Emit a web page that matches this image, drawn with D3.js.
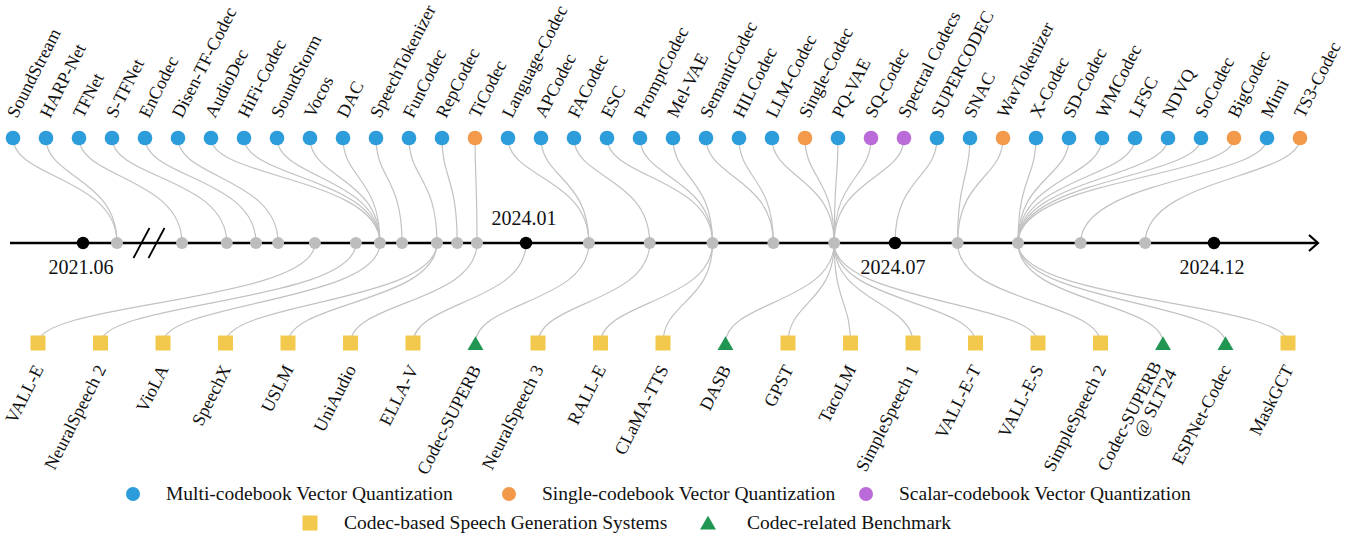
<!DOCTYPE html>
<html>
<head>
<meta charset="utf-8">
<script src="https://cdn.jsdelivr.net/npm/d3@7"></script>
<style>
  body { margin: 0; background: #fff; }
  svg { display: block; }
  text { font-family: "Liberation Serif", "Times New Roman", serif; fill: #111; }
</style>
</head>
<body>
<svg id="chart" width="1364" height="537"></svg>
<script>
// codecs above the timeline
const topNames = ["SoundStream", "HARP-Net", "TFNet", "S-TFNet", "EnCodec", "Disen-TF-Codec", "AudioDec",
  "HiFi-Codec", "SoundStorm", "Vocos", "DAC", "SpeechTokenizer", "FunCodec", "RepCodec", "TiCodec",
  "Language-Codec", "APCodec", "FACodec", "ESC", "PromptCodec", "Mel-VAE", "SemantiCodec", "HILCodec",
  "LLM-Codec", "Single-Codec", "PQ-VAE", "SQ-Codec", "Spectral Codecs", "SUPERCODEC", "SNAC",
  "WavTokenizer", "X-Codec", "SD-Codec", "WMCodec", "LFSC", "NDVQ", "SoCodec", "BigCodec", "Mimi", "TS3-Codec"];
const topKinds = ["multi", "multi", "multi", "multi", "multi", "multi", "multi",
  "multi", "multi", "multi", "multi", "multi", "multi", "multi", "single",
  "multi", "multi", "multi", "multi", "multi", "multi", "multi", "multi",
  "multi", "single", "multi", "scalar", "scalar", "multi", "multi",
  "single", "multi", "multi", "multi", "multi", "multi", "multi", "single", "multi", "single"];
const topDates = ["2021-07-01", "2021-07-01", "2022-01-01", "2022-04-06", "2022-06-07", "2022-07-24", "2023-02-25",
  "2023-02-25", "2023-02-25", "2023-02-25", "2023-02-25", "2023-04-13", "2023-06-26", "2023-08-08", "2023-09-19",
  "2024-02-01", "2024-02-01", "2024-03-02", "2024-04-02", "2024-04-02", "2024-04-02", "2024-05-02", "2024-05-02",
  "2024-06-01", "2024-06-01", "2024-06-01", "2024-06-01", "2024-06-01", "2024-07-01", "2024-07-31",
  "2024-07-31", "2024-08-29", "2024-08-29", "2024-08-29", "2024-08-29", "2024-08-29", "2024-08-29", "2024-08-29",
  "2024-09-28", "2024-10-29"];

// systems and benchmarks below the timeline
const bottomNames = ["VALL-E", "NeuralSpeech 2", "VioLA", "SpeechX", "USLM", "UniAudio", "ELLA-V",
  "Codec-SUPERB", "NeuralSpeech 3", "RALL-E", "CLaMA-TTS", "DASB", "GPST", "TacoLM", "SimpleSpeech 1",
  "VALL-E-T", "VALL-E-S", "SimpleSpeech 2", "Codec-SUPERB|@ SLT'24", "ESPNet-Codec", "MaskGCT"];
const bottomKinds = ["system", "system", "system", "system", "system", "system", "system",
  "bench", "system", "system", "system", "bench", "system", "system", "system",
  "system", "system", "system", "bench", "bench", "system"];
const bottomDates = ["2022-10-10", "2023-01-05", "2023-02-25", "2023-06-26", "2023-06-26", "2023-09-19", "2024-01-01",
  "2024-02-01", "2024-03-02", "2024-04-02", "2024-04-02", "2024-06-01", "2024-06-01", "2024-06-01", "2024-06-01",
  "2024-06-01", "2024-06-01", "2024-07-31", "2024-08-29", "2024-08-29", "2024-08-29"];

// labelled timeline ticks
const tickDates = ["2021-06-01", "2024-01-01", "2024-07-01", "2024-12-01"];
const tickLabels = ["2021.06", "2024.01", "2024.07", "2024.12"];
const tickAbove = [false, true, false, false];
const breakDate = "2021-10-01";

const legendRow1 = ["Multi-codebook Vector Quantization", "Single-codebook Vector Quantization", "Scalar-codebook Vector Quantization"];
const legendRow1Kinds = ["multi", "single", "scalar"];
const legendRow2 = ["Codec-based Speech Generation Systems", "Codec-related Benchmark"];
const legendRow2Kinds = ["system", "bench"];

const colors = {
  multi: "#2D9CDB", single: "#F2994A", scalar: "#BB6BD9",
  system: "#F2C94C", bench: "#219653"
};

const svg = d3.select("#chart");
const parse = d3.timeParse("%Y-%m-%d");

// layout
const yTop = 138, yAxis = 243, yBot = 343;
const axisStart = 10, axisEnd = 1318;
const angle = -63;

// broken time axis: short stretch in 2021, compressed 2022-23, then 2024 by month
const x = d3.scaleTime()
  .domain(["2021-06-01", "2021-07-01", "2022-01-01", "2024-01-01", "2024-07-01", "2024-12-01"].map(parse))
  .range([83, 117, 182, 526, 895, 1214]);

const xTop = d3.scalePoint().domain(topNames).range([13, 1300]);
const xBot = d3.scalePoint().domain(bottomNames).range([38, 1288]);

function link(x1, y1, x2, y2, c) {
  const p = d3.path();
  p.moveTo(x1, y1);
  p.bezierCurveTo(x1, c, x2, c, x2, y2);
  return p.toString();
}

// connectors
const gLinks = svg.append("g").attr("fill", "none").attr("stroke", "#c2c2c2").attr("stroke-width", 1.2);
topNames.forEach((n, i) => {
  gLinks.append("path").attr("d", link(xTop(n), yTop, x(parse(topDates[i])), yAxis, yTop + 40));
});
bottomNames.forEach((n, i) => {
  gLinks.append("path").attr("d", link(x(parse(bottomDates[i])), yAxis, xBot(n), yBot, yBot - 41));
});

// axis line, break, arrow
svg.append("line").attr("x1", axisStart).attr("x2", axisEnd).attr("y1", yAxis).attr("y2", yAxis)
  .attr("stroke", "#000").attr("stroke-width", 2.4);
const bx = x(parse(breakDate));
[-8, 7].forEach(o => {
  svg.append("line").attr("x1", bx + o - 8).attr("y1", yAxis + 15).attr("x2", bx + o + 8).attr("y2", yAxis - 15)
    .attr("stroke", "#000").attr("stroke-width", 1.8);
});
svg.append("path").attr("d", `M${axisEnd - 9},${yAxis - 8}L${axisEnd},${yAxis}L${axisEnd - 9},${yAxis + 8}`)
  .attr("fill", "none").attr("stroke", "#000").attr("stroke-width", 2.2);

// event nodes
const nodeDates = Array.from(new Set(topDates.concat(bottomDates))).filter(d => !tickDates.includes(d));
svg.append("g").selectAll("circle").data(nodeDates).join("circle")
  .attr("cx", d => x(parse(d))).attr("cy", yAxis).attr("r", 6).attr("fill", "#bdbdbd");

// labelled ticks
svg.append("g").selectAll("circle").data(tickDates).join("circle")
  .attr("cx", d => x(parse(d))).attr("cy", yAxis).attr("r", 6.2).attr("fill", "#000");
svg.append("g").selectAll("text").data(tickDates).join("text")
  .attr("x", d => x(parse(d)) - 2).attr("y", (d, i) => tickAbove[i] ? yAxis - 18 : yAxis + 31)
  .attr("text-anchor", "middle").attr("font-size", 20).text((d, i) => tickLabels[i]);

// top markers + labels
svg.append("g").selectAll("circle").data(topNames).join("circle")
  .attr("cx", d => xTop(d)).attr("cy", yTop).attr("r", 7.3).attr("fill", (d, i) => colors[topKinds[i]]);
svg.append("g").selectAll("text").data(topNames).join("text")
  .attr("transform", d => `translate(${xTop(d) + 4},${yTop - 19}) rotate(${angle})`)
  .attr("font-size", 18).text(d => d);

// bottom markers + labels
const symTri = d3.symbol(d3.symbolTriangle, 110);
const gBot = svg.append("g");
bottomNames.forEach((n, i) => {
  const cx = xBot(n);
  if (bottomKinds[i] === "bench") {
    gBot.append("path").attr("d", symTri()).attr("transform", `translate(${cx},${yBot + 2.5})`).attr("fill", colors.bench);
  } else {
    gBot.append("rect").attr("x", cx - 7.5).attr("y", yBot - 7.5).attr("width", 15).attr("height", 15).attr("fill", colors.system);
  }
  const lines = n.split("|");
  const t = gBot.append("text")
    .attr("transform", `translate(${cx + 6},${yBot + 26}) rotate(${angle})`)
    .attr("text-anchor", "end").attr("font-size", 18);
  lines.forEach((s, j) => {
    t.append("tspan").attr("x", 0).attr("dy", lines.length > 1 ? (j === 0 ? -8 : 17) : 0).text(s);
  });
});

// legend
const lg = svg.append("g");
const row1X = [133, 509, 866];
legendRow1.forEach((s, i) => {
  lg.append("circle").attr("cx", row1X[i]).attr("cy", 494).attr("r", 7).attr("fill", colors[legendRow1Kinds[i]]);
  lg.append("text").attr("x", row1X[i] + 33).attr("y", 500).attr("font-size", 19.5).text(s);
});
const row2X = [310, 708];
legendRow2.forEach((s, i) => {
  const k = legendRow2Kinds[i];
  if (k === "bench") {
    lg.append("path").attr("d", symTri()).attr("transform", `translate(${row2X[i]},${525})`).attr("fill", colors.bench);
  } else {
    lg.append("rect").attr("x", row2X[i] - 7.5).attr("y", 515.5).attr("width", 15).attr("height", 15).attr("fill", colors.system);
  }
  lg.append("text").attr("x", row2X[i] + (k === "bench" ? 39 : 34)).attr("y", 529).attr("font-size", 19.5).text(s);
});
</script>
</body>
</html>
